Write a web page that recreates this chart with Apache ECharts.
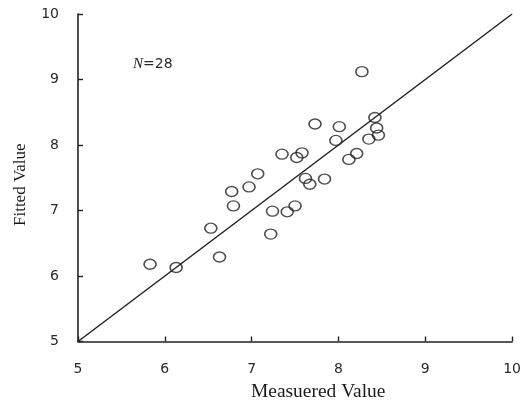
<!DOCTYPE html>
<html>
<head>
<meta charset="utf-8">
<script src="https://cdn.jsdelivr.net/npm/echarts@6/dist/echarts.min.js"></script>
<style>html,body{margin:0;padding:0;background:#fff}#c{width:524px;height:405px}</style>
</head>
<body>
<div id="c"></div>
<script>
var measured = [5.83, 6.13, 6.53, 6.63, 6.77, 6.79, 6.97, 7.07, 7.22, 7.24, 7.41, 7.50, 7.62, 7.67, 7.84, 8.27, 8.42, 8.44, 8.46, 8.35, 7.73, 8.01, 7.97, 7.35, 7.52, 7.58, 8.12, 8.21];
var fitted   = [6.18, 6.13, 6.73, 6.29, 7.29, 7.07, 7.36, 7.56, 6.64, 6.99, 6.98, 7.07, 7.49, 7.40, 7.48, 9.12, 8.42, 8.26, 8.15, 8.09, 8.32, 8.28, 8.07, 7.86, 7.81, 7.88, 7.78, 7.87];
var lineX = [5, 10];
var lineY = [5, 10];
var axisMin = 5, axisMax = 10, axisStep = 1;
var xTitle = 'Measuered Value';
var yTitle = 'Fitted Value';
var nLabel = 'N';
var nValue = '=28';

var pts = measured.map(function (m, i) { return [m, fitted[i]]; });
var linePts = lineX.map(function (x, i) { return [x, lineY[i]]; });

var chart = echarts.init(document.getElementById('c'), null, {renderer: 'canvas'});
var axisCommon = {
  type: 'value', min: axisMin, max: axisMax, interval: axisStep,
  axisLine: {show: true, onZero: false, lineStyle: {color: '#222', width: 1.6}},
  axisTick: {show: true, inside: true, length: 5, lineStyle: {color: '#222', width: 1.4}},
  splitLine: {show: false},
  axisLabel: {color: '#2a2a2a', fontFamily: 'DejaVu Sans', fontSize: 14}
};
chart.setOption({
  animation: false,
  grid: {left: 78, right: 10, top: 14, bottom: 63.5, containLabel: false},
  xAxis: Object.assign({}, axisCommon, {axisLabel: Object.assign({}, axisCommon.axisLabel, {margin: 21})}),
  yAxis: Object.assign({}, axisCommon, {axisLabel: Object.assign({}, axisCommon.axisLabel, {margin: 19})}),
  graphic: [
    {type: 'text', x: 251, y: 383, scaleX: 1.08, style: {text: xTitle, font: '18px "Liberation Serif"', fill: '#1a1a1a'}},
    {type: 'text', x: 12, y: 226, rotation: Math.PI / 2, style: {text: yTitle, font: '17px "Liberation Serif"', fill: '#1a1a1a'}},
    {type: 'text', x: 133, y: 57, style: {
      rich: {
        i: {font: 'italic 15px "Liberation Serif"', fill: '#222'},
        n: {font: '14px "DejaVu Sans"', fill: '#2a2a2a'}
      },
      text: '{i|' + nLabel + '}{n|' + nValue + '}'
    }}
  ],
  series: [
    {type: 'line', data: linePts, symbol: 'none', lineStyle: {color: '#222', width: 1.5}, z: 1},
    {type: 'scatter', data: pts, symbol: 'circle', symbolSize: [12, 10],
     itemStyle: {color: 'rgba(255,255,255,0)', borderColor: '#222', borderWidth: 1.5}, z: 2}
  ]
});
</script>
</body>
</html>
